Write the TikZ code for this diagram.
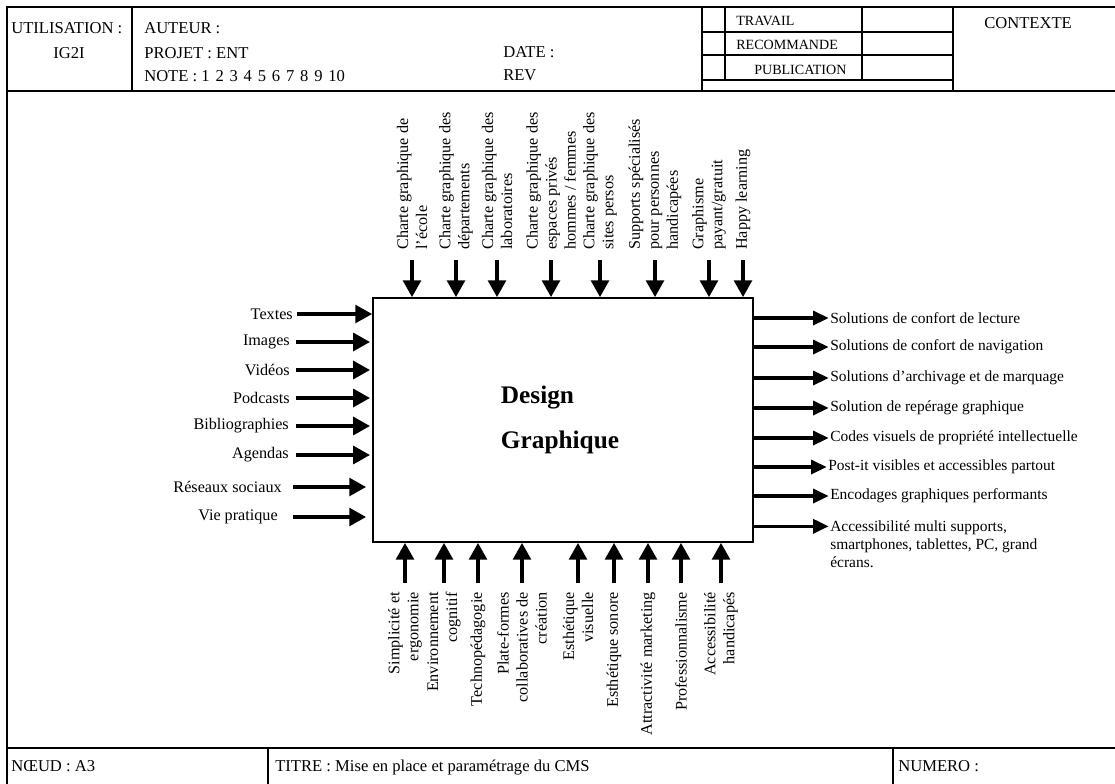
\documentclass[tikz,border=0pt]{standalone}
\usepackage{fontspec}
\setmainfont{Liberation Serif}
\usetikzlibrary{arrows.meta, positioning}
\tikzset{
  %% Lines of the form
  sheet/.style={draw=black, line width=2.1pt},
  thin sheet/.style={draw=black, line width=1.5pt},
  %% Form texts
  htext/.style={anchor=base west, inner sep=0pt, font=\fontsize{11.8}{13}\selectfont},
  stext/.style={anchor=base west, inner sep=0pt, font=\fontsize{10}{11}\selectfont},
  %% Labels round the box
  toplbl/.style={rotate=90, anchor=west, align=left, inner sep=0pt,
    font=\fontsize{11.5}{13.5}\selectfont},
  botlbl/.style={rotate=90, anchor=east, align=right, inner sep=0pt,
    font=\fontsize{11.5}{13.5}\selectfont},
  inlbl/.style={anchor=east, inner sep=0pt, font=\fontsize{11.5}{13.5}\selectfont},
  outlbl/.style={anchor=west, inner sep=0pt, align=left,
    font=\fontsize{11}{13}\selectfont},
  %% Arrows
  arr/.style={-{Triangle[length=12pt,width=12.5pt]}, line width=2.8pt},
  oarr/.style={-{Triangle[length=11pt,width=10pt]}, line width=2.2pt},
}

\begin{document}
\begin{tikzpicture}[x=0.025cm, y=-0.025cm]
  \useasboundingbox (0,0) rectangle (1115,783);

  %% form frame
  \draw[sheet] (7,7) rectangle (1120,790);
  \draw[sheet] (7,91) -- (1120,91);
  \draw[sheet] (132,7) -- (132,91);
  \draw[sheet] (702,7) -- (702,91);
  \draw[sheet] (953,7) -- (953,91);
  \draw[sheet] (702,32) -- (953,32);
  \draw[sheet] (702,55) -- (953,55);
  \draw[sheet] (702,80) -- (953,80);
  \draw[sheet] (725,7) -- (725,80);
  \draw[sheet] (862,7) -- (862,80);
  \draw[sheet] (7,748) -- (1120,748);
  \draw[thin sheet] (268,748) -- (268,790);
  \draw[thin sheet] (893,748) -- (893,790);

  %% header
  \node[htext] (util) at (11,33) {UTILISATION :};
  \node[htext, anchor=base] (ecole) at (69,58) {IG2I};
  \node[htext] (auteur) at (144,33) {AUTEUR :};
  \node[htext] (projet) at (144,58) {PROJET : ENT};
  \node[htext] (note) at (144,81) {NOTE : 1\hspace{0.35em}2\hspace{0.35em}3\hspace{0.35em}4\hspace{0.35em}5\hspace{0.35em}6\hspace{0.35em}7\hspace{0.35em}8\hspace{0.35em}9\hspace{0.35em}10};
  \node[htext] (date) at (503,57) {DATE :};
  \node[htext] (rev) at (503,80) {REV};
  \node[stext] (travail) at (736,25) {TRAVAIL};
  \node[stext] (recom) at (736,49) {RECOMMANDE};
  \node[stext] (publi) at (754,74) {PUBLICATION};
  \node[htext] (contexte) at (984,28) {CONTEXTE};

  %% footer
  \node[htext] (noeud) at (11,771) {NŒUD : A3};
  \node[htext] (titre) at (275,771) {TITRE : Mise en place et paramétrage du CMS};
  \node[htext] (numero) at (898,771) {NUMERO :};

  %% activity box
  \node[draw, line width=1.1pt, minimum width=9.5cm, minimum height=6.1cm,
    inner sep=0pt] (box) at (563,420) {};
  \node[align=left, inner sep=0pt, font=\fontsize{18}{32}\selectfont\bfseries]
    (title) at (560,420) {Design\\Graphique};

  %% controls
  \node[toplbl] (t1) at (412,250) {Charte graphique de\\l'école};
  \node[toplbl] (t2) at (456,250) {Charte graphique des\\départements};
  \node[toplbl] (t3) at (497,250) {Charte graphique des\\laboratoires};
  \node[toplbl] (t4) at (551,250) {Charte graphique des\\espaces privés\\hommes / femmes};
  \node[toplbl] (t5) at (600,250) {Charte graphique des\\sites persos};
  \node[toplbl] (t6) at (655,250) {Supports spécialisés\\pour personnes\\handicapées};
  \node[toplbl] (t7) at (709,250) {Graphisme\\payant/gratuit};
  \node[toplbl] (t8) at (743,250) {Happy learning};
  \draw[arr] (t1.west) ++(0,10) -- (t1.west |- box.north);
  \draw[arr] (t2.west) ++(0,10) -- (t2.west |- box.north);
  \draw[arr] (t3.west) ++(0,10) -- (t3.west |- box.north);
  \draw[arr] (t4.west) ++(0,10) -- (t4.west |- box.north);
  \draw[arr] (t5.west) ++(0,10) -- (t5.west |- box.north);
  \draw[arr] (t6.west) ++(0,10) -- (t6.west |- box.north);
  \draw[arr] (t7.west) ++(0,10) -- (t7.west |- box.north);
  \draw[arr] (t8.west) ++(0,10) -- (t8.west |- box.north);

  %% inputs
  \node[inlbl] (l1) at (293,314) {Textes};
  \node[inlbl] (l2) at (290,342) {Images};
  \node[inlbl] (l3) at (290,370) {Vidéos};
  \node[inlbl] (l4) at (290,398) {Podcasts};
  \node[inlbl] (l5) at (289,426) {Bibliographies};
  \node[inlbl] (l6) at (289,455) {Agendas};
  \node[inlbl] (l7) at (282,487) {Réseaux sociaux};
  \node[inlbl] (l8) at (278,517) {Vie pratique};
  \draw[arr] (l1.east) ++(4,0) -- (l1.east -| box.west);
  \draw[arr, shorten >=1.5pt] (l2.east) ++(6,0) -- (l2.east -| box.west);
  \draw[arr, shorten >=1.5pt] (l3.east) ++(6,0) -- (l3.east -| box.west);
  \draw[arr, shorten >=1.5pt] (l4.east) ++(6,0) -- (l4.east -| box.west);
  \draw[arr, shorten >=1.5pt] (l5.east) ++(7,0) -- (l5.east -| box.west);
  \draw[arr, shorten >=1.5pt] (l6.east) ++(7,0) -- (l6.east -| box.west);
  \draw[arr, shorten >=4.3pt] (l7.east) ++(11,0) -- (l7.east -| box.west);
  \draw[arr, shorten >=4.3pt] (l8.east) ++(15,0) -- (l8.east -| box.west);

  %% outputs
  \node[outlbl] (o1) at (830,318) {Solutions de confort de lecture};
  \node[outlbl] (o2) at (830,347) {Solutions de confort de navigation};
  \node[outlbl] (o3) at (830,378) {Solutions d’archivage et de marquage};
  \node[outlbl] (o4) at (830,408) {Solution de repérage graphique};
  \node[outlbl] (o5) at (830,438) {Codes visuels de propriété intellectuelle};
  \node[outlbl] (o6) at (828,467) {Post-it visibles et accessibles partout};
  \node[outlbl] (o7) at (830,496) {Encodages graphiques performants};
  \node[outlbl, anchor=north west] (o8) at (830,520)
    {Accessibilité multi supports,\\smartphones, tablettes, PC, grand\\écrans.};
  \coordinate (o8tip) at ([yshift=-4.5pt]o8.north west);
  \draw[oarr, shorten >=1pt] (o1.west -| box.east) -- (o1.west);
  \draw[oarr, shorten >=1pt] (o2.west -| box.east) -- (o2.west);
  \draw[oarr, shorten >=1pt] (o3.west -| box.east) -- (o3.west);
  \draw[oarr, shorten >=1pt] (o4.west -| box.east) -- (o4.west);
  \draw[oarr, shorten >=1pt] (o5.west -| box.east) -- (o5.west);
  \draw[oarr, shorten >=1pt] (o6.west -| box.east) -- (o6.west);
  \draw[oarr, shorten >=1pt] (o7.west -| box.east) -- (o7.west);
  \draw[oarr, shorten >=1pt] (o8tip -| box.east) -- (o8tip);

  %% mechanisms
  \node[botlbl] (b1) at (405,592) {Simplicité et\\ergonomie};
  \node[botlbl] (b2) at (444,592) {Environnement\\cognitif};
  \node[botlbl] (b3) at (478,592) {Technopédagogie};
  \node[botlbl] (b4) at (522,592) {Plate-formes\\collaboratives de\\création};
  \node[botlbl] (b5) at (578,592) {Esthétique\\visuelle};
  \node[botlbl] (b6) at (614,592) {Esthétique sonore};
  \node[botlbl] (b7) at (648,592) {Attractivité marketing};
  \node[botlbl] (b8) at (681,592) {Professionnalisme};
  \node[botlbl] (b9) at (721,592) {Accessibilité\\handicapés};
  \draw[arr] (b1.east) ++(0,-9) -- (b1.east |- box.south);
  \draw[arr] (b2.east) ++(0,-9) -- (b2.east |- box.south);
  \draw[arr] (b3.east) ++(0,-9) -- (b3.east |- box.south);
  \draw[arr] (b4.east) ++(0,-9) -- (b4.east |- box.south);
  \draw[arr] (b5.east) ++(0,-9) -- (b5.east |- box.south);
  \draw[arr] (b6.east) ++(0,-9) -- (b6.east |- box.south);
  \draw[arr] (b7.east) ++(0,-9) -- (b7.east |- box.south);
  \draw[arr] (b8.east) ++(0,-9) -- (b8.east |- box.south);
  \draw[arr] (b9.east) ++(0,-9) -- (b9.east |- box.south);
\end{tikzpicture}
\end{document}
